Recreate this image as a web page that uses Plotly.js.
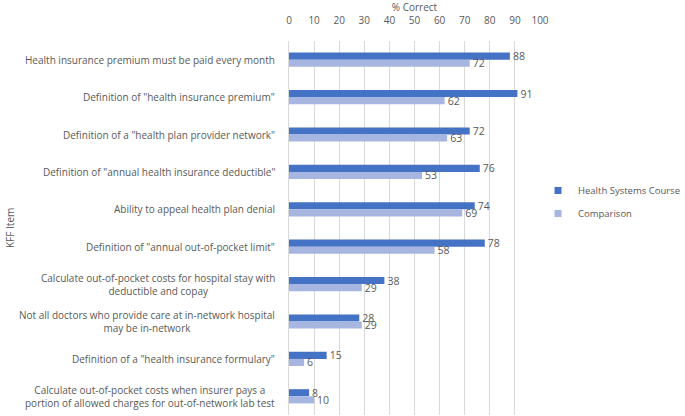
<!DOCTYPE html>
<html>
<head>
<meta charset="utf-8">
<script src="https://cdn.plot.ly/plotly-3.0.1.min.js"></script>
<style>html,body{margin:0;padding:0;background:#fff;}#chart{width:685px;height:416px;}</style>
</head>
<body>
<div id="chart"></div>
<script>
var categories = [
  'Health insurance premium must be paid every month',
  'Definition of "health insurance premium"',
  'Definition of a "health plan provider network"',
  'Definition of "annual health insurance deductible"',
  'Ability to appeal health plan denial',
  'Definition of "annual out-of-pocket limit"',
  'Calculate out-of-pocket costs for hospital stay with<br>deductible and copay',
  'Not all doctors who provide care at in-network hospital<br>may be in-network',
  'Definition of a "health insurance formulary"',
  'Calculate out-of-pocket costs when insurer pays a<br>portion of allowed charges for out-of-network lab test'
];
var courseValues = [88, 91, 72, 76, 74, 78, 38, 28, 15, 8];
var comparisonValues = [72, 62, 63, 53, 69, 58, 29, 29, 6, 10];
var xTicks = [0, 10, 20, 30, 40, 50, 60, 70, 80, 90, 100];
var seriesNames = ['Health Systems Course', 'Comparison'];
var seriesColors = ['#4472c4', '#a7b6e0'];

var FONT = 'Open Sans, Noto Sans, sans-serif';
var GREY = '#595959';

function barTrace(i, vals) {
  return {
    type: 'bar', orientation: 'h', name: seriesNames[i],
    y: categories, x: vals,
    marker: {color: seriesColors[i]},
    text: vals.map(String), textposition: 'outside', constraintext: 'none',
    cliponaxis: false,
    textfont: {family: FONT, size: 10.5, color: GREY},
    showlegend: false, hoverinfo: 'x'
  };
}
function legendTrace(i) {
  return {
    type: 'scatter', mode: 'markers', name: seriesNames[i],
    x: [null], y: [null],
    marker: {symbol: 'square', size: 7, color: seriesColors[i]},
    legendgroup: 'g' + i, showlegend: true
  };
}

var traces = [
  barTrace(0, courseValues),
  barTrace(1, comparisonValues),
  legendTrace(0),
  legendTrace(1)
];

var annotations = categories.map(function (c) {
  return {
    xref: 'paper', yref: 'y', x: -12 / 251, y: c,
    xanchor: 'right', yanchor: 'middle', align: 'center',
    text: c, showarrow: false,
    font: {family: FONT, size: 10, color: GREY}
  };
});
annotations.push({
  xref: 'paper', yref: 'paper', x: (10 - 289) / 251, y: 0.5,
  xanchor: 'center', yanchor: 'middle', textangle: -90,
  text: 'KFF Item', showarrow: false,
  font: {family: FONT, size: 10, color: GREY}
});

var layout = {
  width: 685, height: 416,
  margin: {l: 289, r: 145, t: 41, b: 1, pad: 0, autoexpand: false},
  paper_bgcolor: '#fff', plot_bgcolor: '#fff',
  barmode: 'group', bargap: 0.62, bargroupgap: 0,
  font: {family: FONT, color: GREY, size: 10},
  xaxis: {
    side: 'top', range: [0, 100], tickvals: xTicks, ticks: '',
    showgrid: true, gridcolor: '#d9d9d9', gridwidth: 1,
    zeroline: false, showline: false, ticklabelstandoff: 14,
    tickfont: {family: FONT, size: 10, color: GREY},
    title: {text: '% Correct', font: {family: FONT, size: 10, color: GREY}, standoff: 0},
    fixedrange: true, automargin: false
  },
  yaxis: {
    autorange: 'reversed', showticklabels: false, ticks: '',
    showline: true, linecolor: '#d9d9d9', linewidth: 1,
    showgrid: false, zeroline: false,
    fixedrange: true, automargin: false
  },
  showlegend: true,
  legend: {
    xref: 'container', yref: 'container',
    x: 538 / 685, y: 1 - 202 / 416, xanchor: 'left', yanchor: 'middle',
    traceorder: 'grouped', tracegroupgap: 4,
    font: {family: FONT, size: 9.5, color: GREY},
    itemwidth: 30, bgcolor: 'rgba(0,0,0,0)'
  },
  annotations: annotations
};

Plotly.newPlot('chart', traces, layout, {displayModeBar: false, staticPlot: true});
</script>
</body>
</html>
